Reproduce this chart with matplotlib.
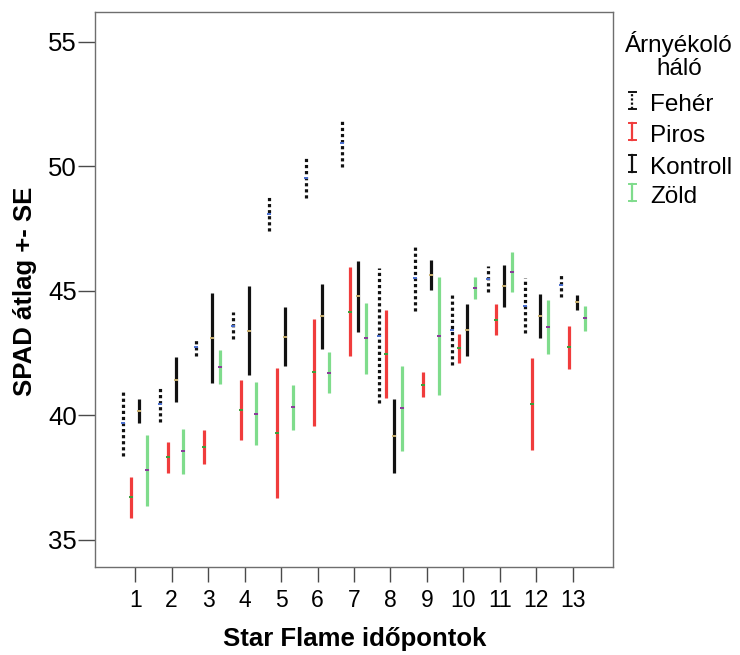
import numpy as np
import matplotlib
matplotlib.use("Agg")
import matplotlib.pyplot as plt
from matplotlib.lines import Line2D

plt.rcParams['font.family'] = ['Liberation Sans', 'DejaVu Sans']

# time points on the x axis
timepoints = list(range(1, 14))

# mean SPAD and standard error for each shading net
feher_mean = [39.69, 40.45, 42.74, 43.60, 48.10, 49.53, 50.93, 43.20, 45.50, 43.42, 45.48, 44.40, 45.23]
feher_se = [1.34, 0.74, 0.36, 0.54, 0.69, 0.80, 0.96, 2.72, 1.30, 1.39, 0.52, 1.10, 0.50]

piros_mean = [36.70, 38.30, 38.72, 40.20, 39.29, 41.72, 44.15, 42.47, 41.23, 42.68, 43.83, 40.46, 42.72]
piros_se = [0.82, 0.61, 0.70, 1.20, 2.60, 2.14, 1.79, 1.77, 0.50, 0.59, 0.62, 1.85, 0.86]

kontroll_mean = [40.17, 41.43, 43.09, 43.40, 43.15, 43.97, 44.77, 39.17, 45.63, 43.43, 45.20, 43.98, 44.53]
kontroll_se = [0.48, 0.90, 1.80, 1.80, 1.19, 1.30, 1.44, 1.49, 0.62, 1.04, 0.84, 0.89, 0.29]

zold_mean = [37.78, 38.55, 41.94, 40.06, 40.32, 41.70, 43.09, 40.27, 43.18, 45.12, 45.75, 43.55, 43.90]
zold_se = [1.44, 0.91, 0.69, 1.27, 0.90, 0.82, 1.42, 1.69, 2.37, 0.44, 0.80, 1.09, 0.50]

labels = ['Fehér', 'Piros', 'Kontroll', 'Zöld']
means = [feher_mean, piros_mean, kontroll_mean, zold_mean]
ses = [feher_se, piros_se, kontroll_se, zold_se]

colors = ['#111111', '#f03c3c', '#111111', '#7fdc8c']
styles = [(0, (1.0, 0.9)), 'solid', 'solid', 'solid']
dot_colors = ['#4a6fd0', '#3aa03a', '#c8b070', '#8a3a9a']
offsets = [-0.32, -0.11, 0.11, 0.32]

W, H = 740, 655
fig = plt.figure(figsize=(W / 100, H / 100), dpi=100)
ax = fig.add_axes([95/W, 88/H, 518/W, 555/H])

x = np.array(timepoints, dtype=float)
for m, s, c, ls, dc, off in zip(means, ses, colors, styles, dot_colors, offsets):
    m = np.array(m)
    s = np.array(s)
    ax.vlines(x + off, m - s, m + s, colors=c, linestyles=ls, linewidth=2.3)
    ax.plot(x + off, m, linestyle='none', marker='_', markersize=3,
            markeredgewidth=1.4, color=dc)

ax.set_xlim(-0.1, 14.1)
ax.set_ylim(33.9, 56.2)
ax.set_xticks(timepoints)
ax.set_xticklabels([str(t) for t in timepoints])
ax.set_yticks([35, 40, 45, 50, 55])

for sp in ax.spines.values():
    sp.set_color('#6e6e6e')
    sp.set_linewidth(1.0)
ax.tick_params(axis='x', length=11, width=1, color='#4a4a4a', labelsize=16.5, pad=5)
ax.tick_params(axis='y', length=12, width=1, color='#4a4a4a', labelsize=18.5, pad=1)

# axis titles, placed at the reference pixel positions
fig.text(354.5/W, 1 - 646/H, 'Star Flame időpontok', ha='center', va='baseline',
         fontsize=18.5, fontweight='bold')
fig.text(32/W, 1 - 291.5/H, 'SPAD átlag +- SE', ha='center', va='baseline',
         rotation=90, rotation_mode='anchor', fontsize=18.5, fontweight='bold')

# legend, drawn by hand to get the I-shaped symbols
fig.text(679/W, 1 - 52/H, 'Árnyékoló', ha='center', va='baseline', fontsize=17.5)
fig.text(679/W, 1 - 75/H, 'háló', ha='center', va='baseline', fontsize=17.5)
baselines = [111, 142, 174, 203]
for lab, c, ls, b in zip(labels, colors, styles, baselines):
    xs = 632 / W
    top = 1 - (b - 19) / H
    bot = 1 - (b - 2) / H
    w = 3.5 / W
    fig.add_artist(Line2D([xs, xs], [bot, top], color=c, linestyle=ls,
                          linewidth=1.6, transform=fig.transFigure))
    for yy in (bot, top):
        fig.add_artist(Line2D([xs - w, xs + w], [yy, yy], color=c, linewidth=1.4,
                              transform=fig.transFigure))
    fig.text(650/W, 1 - b/H, lab, ha='left', va='baseline', fontsize=17.5)

fig.savefig('out.png', dpi=100)
